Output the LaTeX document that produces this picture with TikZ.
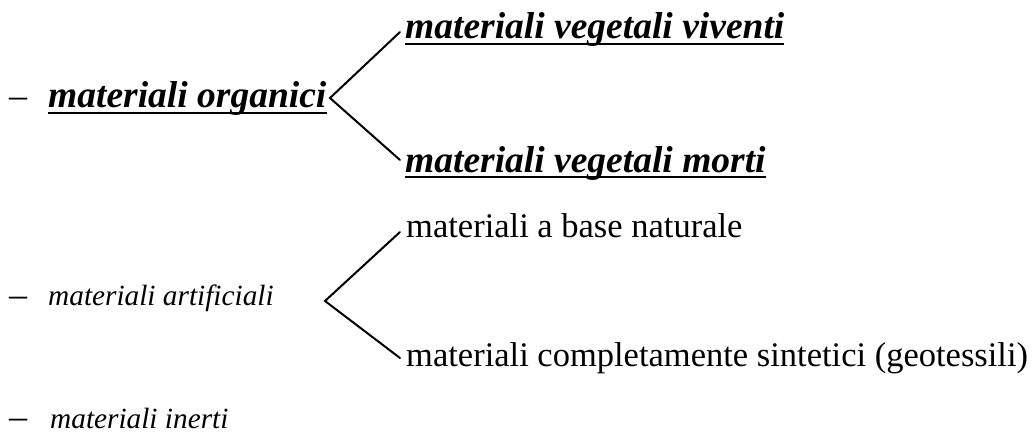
\documentclass[tikz,border=0pt]{standalone}
\usepackage{fontspec}
\setmainfont{Liberation Serif}
\begin{document}
\begin{tikzpicture}[x=1pt,y=-1pt,
  txt/.style={inner sep=0pt,anchor=base west},
  boldit/.style={txt,font=\fontsize{37.5}{40}\selectfont\bfseries\itshape},
  plain/.style={txt,font=\fontsize{34.5}{38}\selectfont},
  ital/.style={txt,font=\fontsize{29.3}{32}\selectfont\itshape},
  dashmark/.style={txt,font=\fontsize{36}{38}\selectfont},
  branch/.style={line width=2pt,line cap=round},
  ul/.style={line width=2.2pt}]
\useasboundingbox (0,0) rectangle (1033,441);
% dashes
\node[dashmark] (d1) at (9,108) {–};
\node[dashmark] (d2) at (9,306) {–};
\node[dashmark] (d3) at (9,428) {–};
% first group
\node[boldit] (org) at (48,108) {materiali organici};
\node[boldit] (viv) at (405,39) {materiali vegetali viventi};
\node[boldit] (mor) at (405,172) {materiali vegetali morti};
\foreach \n in {org,viv,mor}
  \draw[ul] ([yshift=-5pt]\n.base west) -- ([yshift=-5pt]\n.base east);
\coordinate (t1) at (330,98);
\draw[branch] ([shift={(-5,-7)}]viv.base west) -- (t1) -- ([shift={(-5,-12)}]mor.base west);
% second group
\node[ital] (art) at (48,305) {materiali artificiali};
\node[plain] (nat) at (406,237) {materiali a base naturale};
\node[plain] (sin) at (406,366) {materiali completamente sintetici (geotessili)};
\coordinate (t2) at (325,301);
\draw[branch] ([shift={(-6,-5)}]nat.base west) -- (t2) -- ([shift={(-6,-8)}]sin.base west);
% third
\node[ital] (ine) at (50,428) {materiali inerti};
\end{tikzpicture}
\end{document}
